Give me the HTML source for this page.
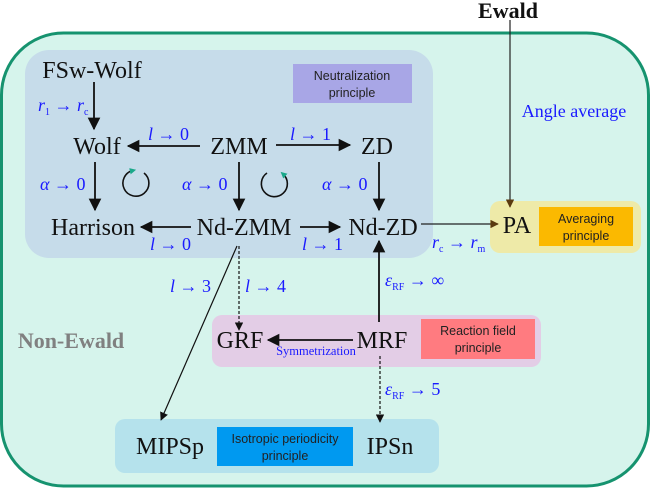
<!DOCTYPE html>
<html><head><meta charset="utf-8"><style>
html,body{margin:0;padding:0;background:#fff;}
svg{display:block;}
.t{font-family:"Liberation Serif",serif;fill:#111;}
.b{font-family:"Liberation Serif",serif;fill:#1a1aff;}
.s{font-family:"Liberation Sans",sans-serif;fill:#222;font-size:12.5px;}
</style></head><body>
<svg width="651" height="488" viewBox="0 0 651 488" xmlns="http://www.w3.org/2000/svg">
<defs>
<marker id="a" viewBox="0 0 10 10" refX="9" refY="5" markerWidth="7" markerHeight="7" orient="auto"><path d="M0,0L10,5L0,10z" fill="#111"/></marker>
<marker id="ab" viewBox="0 0 10 10" refX="9" refY="5" markerWidth="7" markerHeight="7" orient="auto"><path d="M0,0L10,5L0,10z" fill="#5a3a10"/></marker>
<marker id="ag" viewBox="0 0 10 10" refX="5" refY="5" markerWidth="4" markerHeight="4" orient="auto"><path d="M0,0L10,5L0,10z" fill="#1aa88a"/></marker>
</defs>
<rect x="1.5" y="33" width="647" height="453" rx="62" fill="#d6f4ec" stroke="#16936f" stroke-width="3"/>
<rect x="25" y="50" width="408" height="208" rx="24" fill="#c6dcea"/>
<rect x="293" y="64" width="119" height="39" fill="#a8a6e6"/>
<text class="s" x="352" y="80" text-anchor="middle">Neutralization</text>
<text class="s" x="352" y="97" text-anchor="middle">principle</text>
<rect x="490" y="201" width="151" height="52" rx="10" fill="#eeeaa8"/>
<rect x="539" y="207" width="94" height="39" fill="#fbb900"/>
<text class="s" x="586" y="223" text-anchor="middle">Averaging</text>
<text class="s" x="586" y="240" text-anchor="middle">principle</text>
<rect x="212" y="315" width="329" height="52" rx="10" fill="#e3cde6"/>
<rect x="421" y="319" width="114" height="40" fill="#ff7b80"/>
<text class="s" x="478" y="335" text-anchor="middle">Reaction field</text>
<text class="s" x="478" y="352" text-anchor="middle">principle</text>
<rect x="115" y="419" width="324" height="54" rx="10" fill="#b5e2ec"/>
<rect x="217" y="427" width="136" height="39" fill="#0099f0"/>
<text class="s" x="285" y="443" text-anchor="middle">Isotropic  periodicity</text>
<text class="s" x="285" y="460" text-anchor="middle">principle</text>

<text class="t" x="508" y="18" font-size="22" font-weight="bold" text-anchor="middle">Ewald</text>
<text class="b" x="574" y="117" font-size="18" text-anchor="middle">Angle average</text>
<text x="71" y="348" font-family="Liberation Serif,serif" font-size="22" font-weight="bold" fill="#808080" text-anchor="middle">Non-Ewald</text>

<g class="t" font-size="24" text-anchor="middle">
<text x="92" y="78">FSw-Wolf</text>
<text x="97" y="154">Wolf</text>
<text x="239" y="154">ZMM</text>
<text x="377" y="154">ZD</text>
<text x="93" y="235">Harrison</text>
<text x="244" y="235">Nd-ZMM</text>
<text x="383" y="235">Nd-ZD</text>
<text x="517" y="233">PA</text>
<text x="240" y="348">GRF</text>
<text x="382" y="348">MRF</text>
<text x="170" y="454">MIPSp</text>
<text x="390" y="454">IPSn</text>
</g>
<text class="b" x="316" y="355" font-size="12.5" text-anchor="middle">Symmetrization</text>

<g stroke="#111" stroke-width="1.8" fill="none">
<line x1="94" y1="82" x2="94" y2="129" marker-end="url(#a)"/>
<line x1="200" y1="146" x2="128" y2="146" marker-end="url(#a)"/>
<line x1="276" y1="145" x2="350" y2="145" marker-end="url(#a)"/>
<line x1="95" y1="162" x2="95" y2="210" marker-end="url(#a)"/>
<line x1="239" y1="162" x2="239" y2="210" marker-end="url(#a)"/>
<line x1="379" y1="162" x2="379" y2="210" marker-end="url(#a)"/>
<line x1="191" y1="227" x2="141" y2="227" marker-end="url(#a)"/>
<line x1="300" y1="227" x2="340" y2="227" marker-end="url(#a)"/>
<line x1="353" y1="340" x2="268" y2="340" marker-end="url(#a)"/>
<line x1="379" y1="322" x2="379" y2="241" marker-end="url(#a)"/>
</g>
<g stroke="#111" stroke-width="1.2" fill="none">
<line x1="421" y1="224" x2="498" y2="224" stroke="#222" marker-end="url(#ab)"/>
<line x1="510" y1="20" x2="510" y2="207" stroke="#222" marker-end="url(#ab)"/>
<line x1="237" y1="246" x2="161" y2="420" marker-end="url(#a)"/>
<line x1="239" y1="246" x2="239" y2="330" stroke-dasharray="3,2" marker-end="url(#a)"/>
<line x1="380" y1="356" x2="380" y2="422" stroke-dasharray="3,2" marker-end="url(#a)"/>
</g>
<g stroke="#111" stroke-width="1.6" fill="none">
<path d="M144,173 A13,13 0 1,1 133,170.5" marker-end="url(#ag)"/>
<path d="M267,173 A13,13 0 1,0 283,174" marker-end="url(#ag)"/>
</g>

<g class="b" font-size="18" font-style="italic">
<text x="38" y="111">r<tspan font-size="10" font-style="normal" dy="4">1</tspan><tspan dy="-4" font-style="normal"> → </tspan>r<tspan font-size="10" font-style="normal" dy="4">c</tspan></text>
<text x="148" y="140">l<tspan font-style="normal"> → 0</tspan></text>
<text x="290" y="140">l<tspan font-style="normal"> → 1</tspan></text>
<text x="40" y="190">α<tspan font-style="normal"> → 0</tspan></text>
<text x="182" y="190">α<tspan font-style="normal"> → 0</tspan></text>
<text x="322" y="190">α<tspan font-style="normal"> → 0</tspan></text>
<text x="150" y="250">l<tspan font-style="normal"> → 0</tspan></text>
<text x="302" y="250">l<tspan font-style="normal"> → 1</tspan></text>
<text x="432" y="248">r<tspan font-size="10" font-style="normal" dy="4">c</tspan><tspan dy="-4" font-style="normal"> → </tspan>r<tspan font-size="10" font-style="normal" dy="4">m</tspan></text>
<text x="170" y="292">l<tspan font-style="normal"> → 3</tspan></text>
<text x="245" y="292">l<tspan font-style="normal"> → 4</tspan></text>
<text x="385" y="286">ε<tspan font-size="10" font-style="normal" dy="4">RF</tspan><tspan dy="-4" font-style="normal"> → ∞</tspan></text>
<text x="385" y="395">ε<tspan font-size="10" font-style="normal" dy="4">RF</tspan><tspan dy="-4" font-style="normal"> → 5</tspan></text>
</g>
</svg>
</body></html>
